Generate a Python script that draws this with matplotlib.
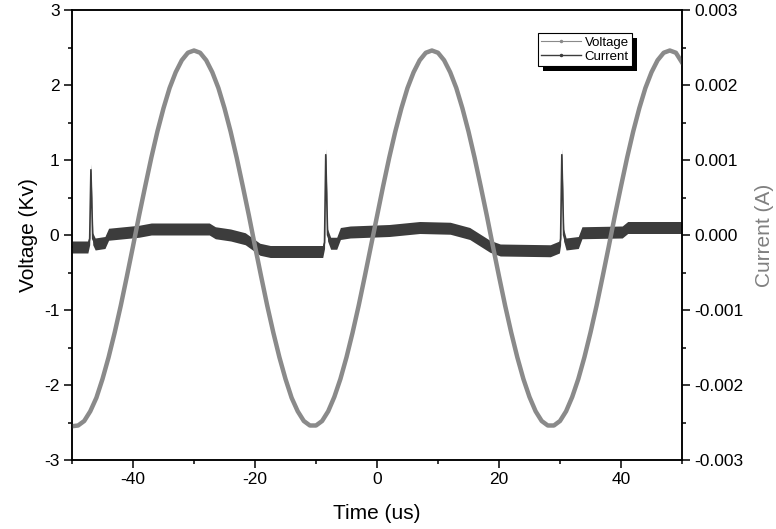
import matplotlib
matplotlib.use('Agg')
import matplotlib.pyplot as plt
from matplotlib.lines import Line2D
from matplotlib.patches import Rectangle
from matplotlib.transforms import IdentityTransform

plt.rcParams['font.family'] = ['Liberation Sans', 'DejaVu Sans']
plt.rcParams['axes.unicode_minus'] = False

# voltage every 1 us (kV)
voltage_t = list(range(-50, 51))
voltage = [-2.55, -2.54, -2.48, -2.35, -2.17, -1.92, -1.63, -1.30, -0.94, -0.55,
           -0.15, 0.26, 0.65, 1.03, 1.38, 1.69, 1.96, 2.17, 2.33, 2.43,
           2.46, 2.43, 2.33, 2.17, 1.96, 1.69, 1.38, 1.03, 0.65, 0.26,
           -0.15, -0.55, -0.94, -1.30, -1.63, -1.92, -2.17, -2.35, -2.48, -2.54,
           -2.54, -2.48, -2.35, -2.16, -1.92, -1.63, -1.30, -0.94, -0.55, -0.15,
           0.25, 0.65, 1.03, 1.38, 1.69, 1.96, 2.17, 2.33, 2.43, 2.46,
           2.43, 2.33, 2.17, 1.96, 1.69, 1.38, 1.03, 0.65, 0.26, -0.15,
           -0.55, -0.94, -1.30, -1.63, -1.92, -2.16, -2.35, -2.48, -2.54, -2.54,
           -2.48, -2.35, -2.16, -1.92, -1.63, -1.30, -0.94, -0.55, -0.15, 0.26,
           0.65, 1.03, 1.38, 1.69, 1.96, 2.17, 2.33, 2.43, 2.46, 2.43,
           2.30]

# current centre line (A), read at the corners of the trace
current_t = [-50, -47.4, -47.1, -46.9, -46.6, -46.2, -44.6, -44.0, -39, -37,
             -27.5, -26.5, -24, -21.6, -19.2, -17.5, -8.9, -8.6, -8.4, -8.1,
             -7.6, -6.6, -6.0, -4.4, 2, 7, 12, 15.2, 18.5, 20.2,
             28.4, 29.9, 30.1, 30.3, 30.6, 31.0, 33.0, 33.6, 40.2, 41.1, 50]
current = [-0.00016, -0.00016, -0.00005, 0.00087, -0.00005, -0.00012, -0.00010, 0.00001, 0.00005, 0.00008,
           0.00008, 0.00003, 0.0, -0.00005, -0.00019, -0.00022, -0.00022, -0.0001, 0.00107, 0.0,
           -0.00011, -0.00011, 0.00002, 0.00004, 0.00006, 0.0001, 0.00009, 0.00002, -0.00015, -0.0002,
           -0.00021, -0.00016, -0.00005, 0.00107, 0.0, -0.00012, -0.0001, 0.00003, 0.00004, 0.0001, 0.0001]
current_noise = 0.00008  # half width of the noise band

v_color = '#8a8a8a'
i_color = '#3c3c3c'

fig = plt.figure(figsize=(7.76, 5.29), dpi=100)
ax = fig.add_axes([72 / 776, 1 - 460 / 529, 610 / 776, 450 / 529])
ax2 = ax.twinx()
ax.set_zorder(ax2.get_zorder() + 1)
ax.patch.set_visible(False)

lo = [c - current_noise for c in current]
hi = [c + current_noise for c in current]
ax2.fill_between(current_t, lo, hi, color=i_color, lw=0)
ax2.plot(current_t, current, color=i_color, lw=1.2)
ax.plot(voltage_t, voltage, color=v_color, lw=3.2, solid_joinstyle='round')

ax.set_xlim(-50, 50)
ax.set_ylim(-3, 3)
ax2.set_ylim(-0.003, 0.003)

ax.set_xticks([-40, -20, 0, 20, 40])
ax.set_xticks([-50, -30, -10, 10, 30, 50], minor=True)
ax.set_yticks([-3, -2, -1, 0, 1, 2, 3])
ax.set_yticks([-2.5, -1.5, -0.5, 0.5, 1.5, 2.5], minor=True)
ax2.set_yticks([-0.003, -0.002, -0.001, 0, 0.001, 0.002, 0.003])
ax2.set_yticks([-0.0025, -0.0015, -0.0005, 0.0005, 0.0015, 0.0025], minor=True)
ax2.set_yticklabels(['%.3f' % v for v in [-0.003, -0.002, -0.001, 0, 0.001, 0.002, 0.003]])

for a in (ax, ax2):
    a.tick_params(which='major', length=6, width=1.1, labelsize=12.5, direction='out', pad=3)
    a.tick_params(which='minor', length=3, width=1.1, direction='out')
    for s in a.spines.values():
        s.set_linewidth(1.1)

ax.set_xlabel('Time (us)', fontsize=15, labelpad=12)
ax.set_ylabel('Voltage (Kv)', fontsize=15, labelpad=4)
ax2.set_ylabel('Current (A)', fontsize=15, color='#808080', labelpad=8)

handles = [Line2D([], [], color=v_color, lw=0.8, marker='.', markersize=3),
           Line2D([], [], color=i_color, lw=1.0, marker='.', markersize=3)]
leg = ax.legend(handles, ['Voltage', 'Current'], loc='upper right',
                bbox_to_anchor=(1 - 50 / 610, 1 - 23 / 450), borderaxespad=0,
                fontsize=9.5, frameon=True, fancybox=False, framealpha=1,
                edgecolor='black', handlelength=3.0, handletextpad=0.3,
                borderpad=0.25, labelspacing=0.15)
leg.get_frame().set_linewidth(0.8)
leg.set_zorder(6)

fig.canvas.draw()
bb = leg.get_window_extent()
ax.add_patch(Rectangle((bb.x0 + 5, bb.y0 - 5), bb.width, bb.height,
                       transform=IdentityTransform(), facecolor='black',
                       edgecolor='none', zorder=5, clip_on=False))

fig.savefig('out.png', dpi=100)
